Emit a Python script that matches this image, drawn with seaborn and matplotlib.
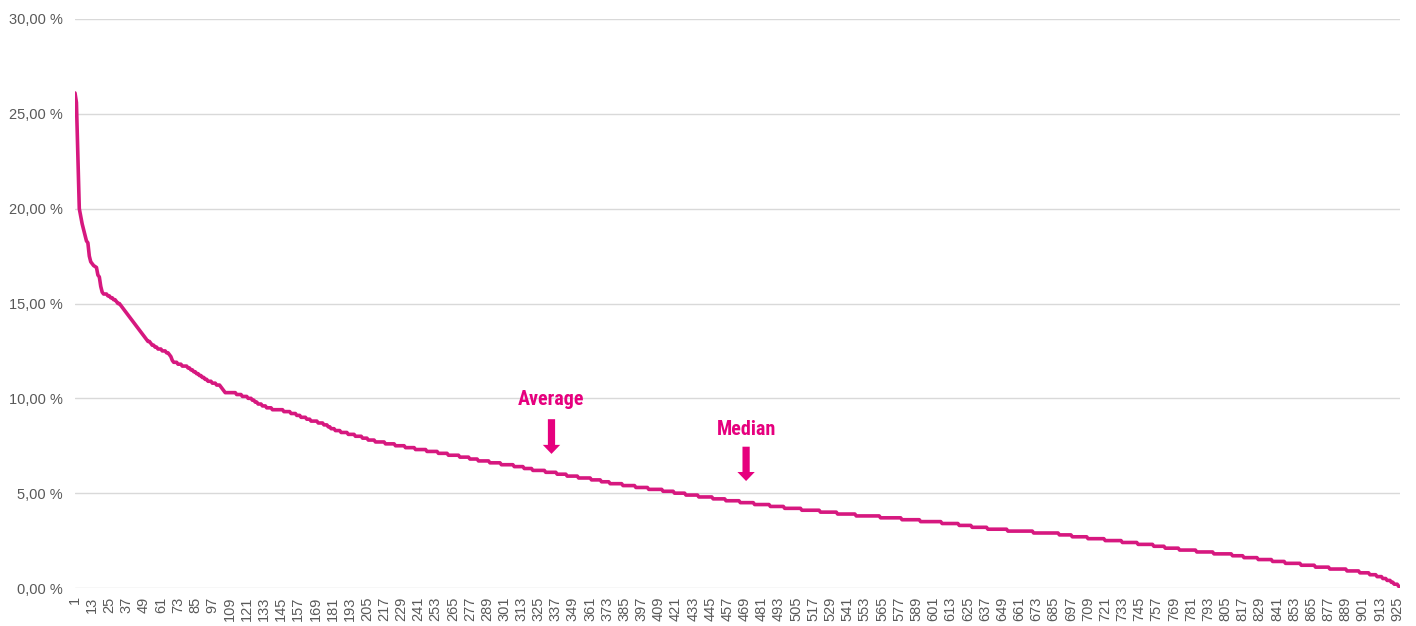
import numpy as np
import pandas as pd
import matplotlib
matplotlib.use("Agg")
import matplotlib.pyplot as plt
import seaborn as sns

# ── Data ─────────────────────────────────────────────────────────────────────
# first points, one value each (steep head of the curve), in %
head_values = [26.1, 25.6, 22.8, 20.0, 19.6, 19.2, 18.9, 18.6, 18.3, 18.2,
               17.5, 17.2, 17.1, 17.0, 16.95, 16.9, 16.5, 16.4, 15.9, 15.6]

# remaining points as (level in %, number of items at that level)
step_levels = [15.5, 15.4, 15.3, 15.2, 15.1, 15.0, 14.9, 14.8, 14.7, 14.6,
               14.5, 14.4, 14.3, 14.2, 14.1, 14.0, 13.9, 13.8, 13.7, 13.6,
               13.5, 13.4, 13.3, 13.2, 13.1, 13.0, 12.9, 12.8, 12.7, 12.6,
               12.5, 12.4, 12.3, 12.2, 12.0, 11.9, 11.8, 11.7, 11.6, 11.5,
               11.4, 11.3, 11.2, 11.1, 11.0, 10.9, 10.8, 10.7, 10.6, 10.5,
               10.4, 10.3, 10.2, 10.1, 10.0, 9.9, 9.8, 9.7, 9.6, 9.5,
               9.4, 9.3, 9.2, 9.1, 9.0, 8.9, 8.8, 8.7, 8.6, 8.5,
               8.4, 8.3, 8.2, 8.1, 8.0, 7.9, 7.8, 7.7, 7.6, 7.5,
               7.4, 7.3, 7.2, 7.1, 7.0, 6.9, 6.8, 6.7, 6.6, 6.5,
               6.4, 6.3, 6.2, 6.1, 6.0, 5.9, 5.8, 5.7, 5.6, 5.5,
               5.4, 5.3, 5.2, 5.1, 5.0, 4.9, 4.8, 4.7, 4.6, 4.5,
               4.4, 4.3, 4.2, 4.1, 4.0, 3.9, 3.8, 3.7, 3.6, 3.5,
               3.4, 3.3, 3.2, 3.1, 3.0, 2.9, 2.8, 2.7, 2.6, 2.5,
               2.4, 2.3, 2.2, 2.1, 2.0, 1.9, 1.8, 1.7, 1.6, 1.5,
               1.4, 1.3, 1.2, 1.1, 1.0, 0.9, 0.8, 0.7, 0.6, 0.5,
               0.4, 0.3, 0.2, 0.1, 0.0]
step_counts = [3, 2, 2, 2, 1, 2, 1, 1, 1, 1,
               1, 1, 1, 1, 1, 1, 1, 1, 1, 1,
               1, 1, 1, 1, 1, 2, 1, 2, 2, 3,
               3, 2, 1, 1, 1, 3, 3, 4, 2, 2,
               2, 2, 2, 2, 2, 3, 3, 3, 1, 1,
               1, 8, 4, 4, 3, 2, 2, 3, 3, 4,
               8, 5, 4, 3, 4, 3, 5, 4, 3, 2,
               3, 4, 5, 5, 5, 4, 5, 7, 7, 7,
               7, 8, 8, 7, 8, 7, 6, 8, 8, 9,
               7, 6, 9, 8, 7, 8, 9, 7, 6, 9,
               9, 9, 10, 8, 8, 9, 10, 9, 10, 10,
               11, 10, 12, 13, 12, 13, 17, 15, 13, 15,
               12, 9, 11, 14, 18, 18, 9, 11, 12, 12,
               11, 11, 8, 10, 12, 12, 13, 8, 10, 10,
               9, 11, 10, 10, 12, 9, 7, 5, 4, 3,
               3, 2, 3, 1, 1]

# annotations: (label, index of arrow, text baseline %, arrow top %, arrow tip %)
average_note = ("Average", 334, 9.65, 8.9, 7.07)
median_note = ("Median", 470, 8.07, 7.45, 5.64)

y_ticks = [0, 5, 10, 15, 20, 25, 30]
x_tick_step = 12

# ── Build table ──────────────────────────────────────────────────────────────
values = np.concatenate([head_values, np.repeat(step_levels, step_counts)])
df = pd.DataFrame({"item": np.arange(1, len(values) + 1), "share": values})
n_items = len(df)

# ── Style ────────────────────────────────────────────────────────────────────
sns.set_theme(style="whitegrid")
plt.rcParams["font.family"] = ["Liberation Sans", "DejaVu Sans"]
LINE_COLOR = "#D6187F"
NOTE_COLOR = "#E6007E"
TEXT_GREY = "#595959"
GRID_GREY = "#D9D9D9"

fig = plt.figure(figsize=(14.16, 6.26), dpi=100)
ax = fig.add_axes([75 / 1416, 1 - 588 / 626, 1325 / 1416, 569 / 626])

sns.lineplot(data=df, x="item", y="share", ax=ax, color=LINE_COLOR,
             linewidth=2.6, estimator=None)

ax.set_xlim(1, n_items)
ax.set_ylim(0, 30)
ax.set_yticks(y_ticks)
ax.set_yticklabels([f"{v:.2f} %".replace(".", ",") for v in y_ticks])
xt = list(range(1, n_items + 1, x_tick_step))
ax.set_xticks(xt)
ax.set_xticklabels([str(v) for v in xt], rotation=90)
ax.tick_params(axis="y", length=0, pad=9, labelsize=10.5, labelcolor=TEXT_GREY)
ax.tick_params(axis="x", length=0, pad=6, labelsize=10.5, labelcolor=TEXT_GREY)
ax.grid(axis="y", color=GRID_GREY, linewidth=1.0)
ax.grid(axis="x", visible=False)
ax.set_xlabel("")
ax.set_ylabel("")
for s in ax.spines.values():
    s.set_visible(False)

# ── Average / Median markers ─────────────────────────────────────────────────
for label, xi, y_text, y_top, y_tip in (average_note, median_note):
    ax.text(xi, y_text, label, ha="center", va="baseline", color=NOTE_COLOR,
            fontsize=14.5, fontweight="bold", fontstretch="condensed",
            family=["Liberation Sans Narrow", "Roboto Condensed",
                    "Open Sans Condensed", "DejaVu Sans"])
    ax.annotate("", xy=(xi, y_tip), xytext=(xi, y_top),
                arrowprops=dict(arrowstyle="simple,head_length=0.65,head_width=1.25,tail_width=0.52",
                                color=NOTE_COLOR, lw=0, mutation_scale=10,
                                shrinkA=0, shrinkB=0))

fig.savefig("out.png", dpi=100)
